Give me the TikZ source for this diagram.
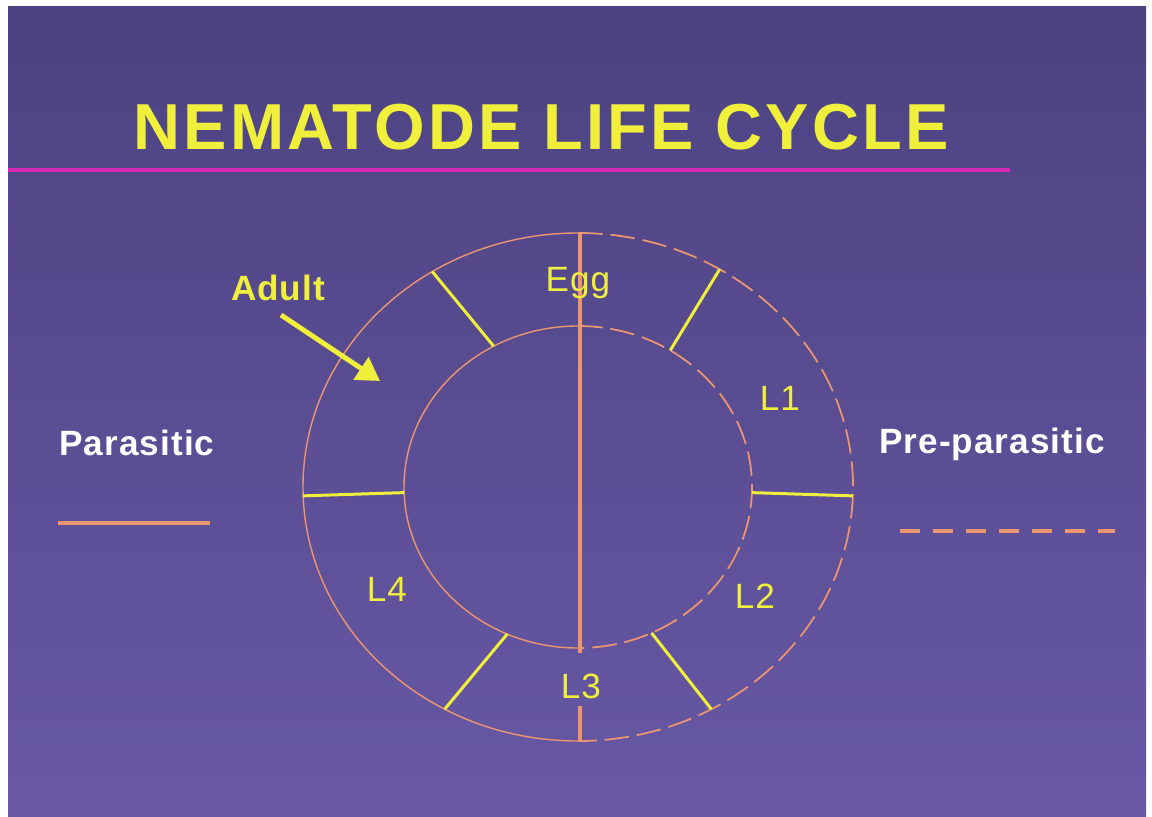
\documentclass[tikz,border=0pt]{standalone}
\usepackage{fontspec}
\setmainfont[LetterSpace=3]{Liberation Sans}
\newfontfamily\headfont[LetterSpace=5]{Liberation Sans}
\usepackage{xcolor}
\usepackage{tikz}
\usetikzlibrary{arrows.meta}

\definecolor{slidetop}{RGB}{76,66,128}
\definecolor{slidebot}{RGB}{104,88,166}
\definecolor{lifeline}{RGB}{236,150,112}
\definecolor{stageyellow}{RGB}{240,240,60}
\definecolor{rulepink}{RGB}{214,40,180}

\begin{document}
\begin{tikzpicture}[
    x=0.02cm, y=0.02cm,
    title/.style={text=stageyellow, font=\headfont\fontsize{37}{44}\selectfont\bfseries, anchor=base},
    stage/.style={text=stageyellow, font=\fontsize{20}{24}\selectfont, anchor=base},
    legend/.style={text=white, font=\fontsize{20}{24}\selectfont\bfseries, anchor=base},
    ring/.style={draw=lifeline, line width=0.8pt},
    prering/.style={ring, line width=1pt, dash pattern=on 14pt off 4.5pt},
    spoke/.style={draw=stageyellow, line width=1.7pt},
    pointer/.style={-{Triangle[length=13pt, width=15pt]}, draw=stageyellow, fill=stageyellow, line width=2.8pt}
]
    \useasboundingbox (0,0) rectangle (1152,-817);
    \fill[white] (0,0) rectangle (1152,-817);
    \shade[top color=slidetop, bottom color=slidebot] (8,-7) rectangle (1146,-817);

    % heading
    \node (heading) [title] at (541,-150) {NEMATODE LIFE CYCLE};
    \draw[rulepink, line width=2pt] (8,-170) -- (1010,-170);

    % the two rings, parasitic half on the left
    \coordinate (centre) at (578,-487);
    \draw[ring] (centre) ++(90:275 and 254) arc[start angle=90, end angle=270, x radius=275, y radius=254];
    \draw[ring] (centre) ++(90:174 and 161) arc[start angle=90, end angle=270, x radius=174, y radius=161];
    \draw[prering] (centre) ++(90:275 and 254) arc[start angle=90, end angle=-90, x radius=275, y radius=254];
    \draw[prering] (centre) ++(90:174 and 161) arc[start angle=90, end angle=-90, x radius=174, y radius=161];

    % stage borders
    \foreach \outer/\inner in {-2/-2, 59/58, 122/119, 182/182, 241/246, 299/295}
        \draw[spoke, shift={(centre)}] (\outer:275 and 254) -- (\inner:174 and 161);

    % dividing line
    \draw[lifeline, line width=2.3pt] (580,-233) -- (580,-653);
    \draw[lifeline, line width=2.3pt] (580,-706) -- (580,-740);

    % stages
    \node (egg) [stage] at (578,-292) {Egg};
    \node (lone) [stage] at (780,-410) {L1};
    \node (ltwo) [stage] at (755,-608) {L2};
    \node (lthree) [stage] at (581,-698) {L3};
    \node (lfour) [stage] at (387,-601) {L4};
    \node (adult) [stage, font=\fontsize{20}{24}\selectfont\bfseries] at (278,-301) {Adult};
    \coordinate (adultfrom) at (281,-315);
    \coordinate (adultto) at (380,-381);
    \draw[pointer] (adultfrom) -- (adultto);

    % key
    \node (parasitic) [legend] at (137,-455) {Parasitic};
    \node (preparasitic) [legend] at (992,-453) {Pre-parasitic};
    \draw[lifeline, line width=2.3pt] (58,-523) -- (210,-523);
    \draw[lifeline, line width=2.3pt, dash pattern=on 11.4pt off 7.4pt] (900,-531) -- (1115,-531);
\end{tikzpicture}
\end{document}
